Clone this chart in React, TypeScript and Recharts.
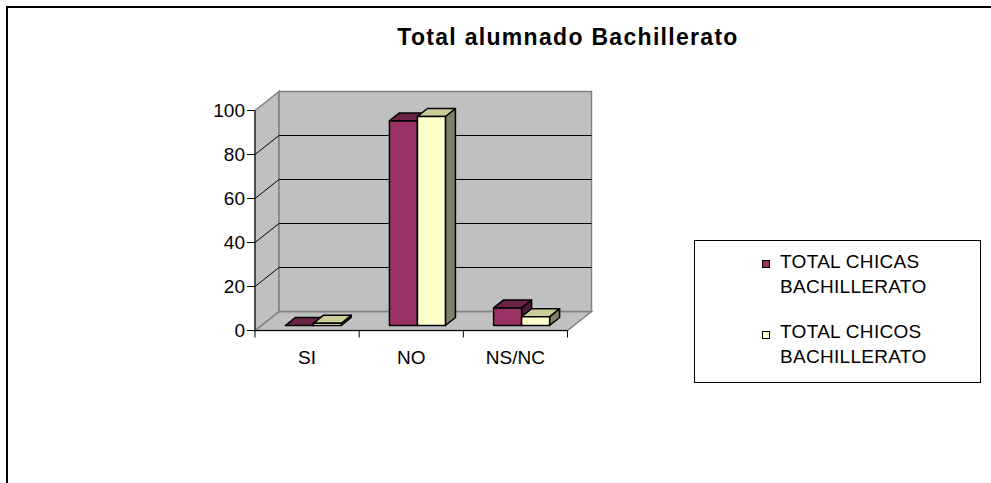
import {
    BarChart,
    Bar,
    XAxis,
    YAxis,
    CartesianGrid,
    ReferenceArea,
    Legend
} from 'recharts'

const categories = ['SI', 'NO', 'NS/NC']
const chicas = [0, 93, 8]
const chicos = [1, 95, 4]
const seriesNames = ['TOTAL CHICAS BACHILLERATO', 'TOTAL CHICOS BACHILLERATO']
const yTicks = [0, 20, 40, 60, 80, 100]
const gridValues = [20, 40, 60, 80]

const data = categories.map((name, i) => ({ name, chicas: chicas[i], chicos: chicos[i] }))

const FONT = '"Liberation Sans", Arial, sans-serif'

// fake 3D: offset of the back wall, of each column's depth, and how far columns sit behind the front edge
const DX = 24
const DY = 19
const BDX = 10
const BDY = 8
const LIFT = 5

function Column(props: any) {
    const { x, y, width, height, front, top, side } = props
    if (x == null || y == null) return null
    const fx = x + (LIFT * DX) / DY
    const fy = y - LIFT
    const fw = width
    const fh = Math.max(height, 0)
    return (
        <g stroke="#000" strokeWidth={1.5} strokeLinejoin="round">
            <polygon
                points={`${fx + fw},${fy} ${fx + fw + BDX},${fy - BDY} ${fx + fw + BDX},${fy + fh - BDY} ${fx + fw},${fy + fh}`}
                fill={side}
            />
            <polygon
                points={`${fx},${fy} ${fx + BDX},${fy - BDY} ${fx + fw + BDX},${fy - BDY} ${fx + fw},${fy}`}
                fill={top}
            />
            {fh > 0 && <rect x={fx} y={fy} width={fw} height={fh} fill={front} />}
        </g>
    )
}

function Walls(props: any) {
    const { x, y, width, height } = props
    if (x == null) return null
    const b = y + height
    const step = width / categories.length
    return (
        <g>
            <polygon
                points={`${x},${b} ${x + width},${b} ${x + width + DX},${b - DY} ${x + DX},${b - DY}`}
                fill="#c0c0c0"
                stroke="#808080"
                strokeWidth={1.5}
            />
            <polygon
                points={`${x},${y} ${x + DX},${y - DY} ${x + DX},${b - DY} ${x},${b}`}
                fill="#c0c0c0"
                stroke="#808080"
                strokeWidth={1.5}
            />
            <rect x={x + DX} y={y - DY} width={width} height={height} fill="#c0c0c0" stroke="#808080" strokeWidth={1.5} />
            {[0, 1, 2, 3].map(i => (
                <line key={i} x1={x + i * step} y1={b} x2={x + i * step} y2={b + 7} stroke="#000" />
            ))}
        </g>
    )
}

const gridLine = (p: any) => (
    <g key={p.key}>
        <line x1={p.x1 + DX} y1={p.y1 - DY} x2={p.x2 + DX} y2={p.y2 - DY} stroke="#000" />
        <line x1={p.x1} y1={p.y1} x2={p.x1 + DX} y2={p.y1 - DY} stroke="#000" />
    </g>
)

const renderLegend = (props: any) => {
    const payload = props.payload || []
    return (
        <div
            style={{
                position: 'relative',
                width: 287,
                height: 143,
                boxSizing: 'border-box',
                border: '1px solid #000',
                background: '#fff',
                fontFamily: FONT,
                fontSize: 19,
                color: '#000'
            }}
        >
            {payload.map((entry: any, i: number) => (
                <div key={i}>
                    <div
                        style={{
                            position: 'absolute',
                            left: 67,
                            top: 19 + i * 71,
                            width: 8,
                            height: 8,
                            boxSizing: 'border-box',
                            border: '1px solid #000',
                            background: entry.color
                        }}
                    />
                    <div
                        style={{
                            position: 'absolute',
                            left: 85,
                            top: 8 + i * 70,
                            width: 165,
                            lineHeight: '25px',
                            letterSpacing: 0.3
                        }}
                    >
                        {entry.value}
                    </div>
                </div>
            ))}
        </div>
    )
}

export default function App() {
    return (
        <div style={{ position: 'absolute', left: 0, top: 0, width: 991, height: 483, overflow: 'hidden', background: '#fff' }}>
            <div
                style={{
                    position: 'absolute',
                    left: 6,
                    top: 6,
                    width: 990,
                    height: 480,
                    borderLeft: '2px solid #000',
                    borderTop: '2px solid #000'
                }}
            />
            <div
                style={{
                    position: 'absolute',
                    left: 568,
                    top: 25.5,
                    transform: 'translateX(-50%)',
                    whiteSpace: 'nowrap',
                    fontFamily: FONT,
                    fontWeight: 'bold',
                    fontSize: 23,
                    lineHeight: '23px',
                    letterSpacing: 1.3,
                    color: '#000'
                }}
            >
                Total alumnado Bachillerato
            </div>
            <div style={{ position: 'absolute', left: 0, top: 0 }}>
                <BarChart
                    width={991}
                    height={483}
                    data={data}
                    margin={{ top: 110.5, right: 423.5, bottom: 112.5, left: 195 }}
                    barCategoryGap="23%"
                    barGap={0}
                >
                    <ReferenceArea y1={0} y2={100} ifOverflow="visible" shape={<Walls />} zIndex={-200} />
                    <CartesianGrid vertical={false} horizontalValues={gridValues} horizontal={gridLine} />
                    <XAxis
                        dataKey="name"
                        height={40}
                        tickLine={false}
                        tickSize={0}
                        tickMargin={20}
                        axisLine={{ stroke: '#000' }}
                        tick={{ fill: '#000', fontSize: 19, fontFamily: FONT }}
                    />
                    <YAxis
                        width={60}
                        domain={[0, 100]}
                        ticks={yTicks}
                        tickSize={8}
                        tickMargin={2}
                        axisLine={{ stroke: '#000' }}
                        tickLine={{ stroke: '#000' }}
                        tick={{ fill: '#000', fontSize: 19, fontFamily: FONT }}
                    />
                    <Bar
                        dataKey="chicas"
                        name={seriesNames[0]}
                        fill="#993366"
                        isAnimationActive={false}
                        shape={(p: any) => <Column {...p} front="#993366" top="#6b2447" side="#4d1a33" />}
                    />
                    <Bar
                        dataKey="chicos"
                        name={seriesNames[1]}
                        fill="#ffffcc"
                        isAnimationActive={false}
                        shape={(p: any) => <Column {...p} front="#ffffcc" top="#cccc99" side="#808066" />}
                    />
                    <Legend
                        layout="vertical"
                        align="center"
                        verticalAlign="middle"
                        wrapperStyle={{ position: 'absolute', left: 694, top: 240, width: 287, height: 143 }}
                        content={renderLegend}
                    />
                </BarChart>
            </div>
        </div>
    )
}
